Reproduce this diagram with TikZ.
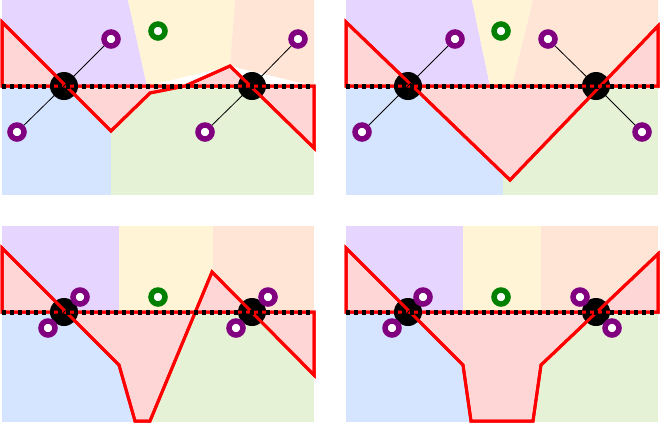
\documentclass[tikz,border=0pt]{standalone}
\begin{document}
\begin{tikzpicture}[x=1pt,y=-1pt,
  redline/.style={draw=red,line width=3pt,line join=miter,fill=pinkf},
  dotline/.style={draw=black,line width=5pt,dash pattern=on 4pt off 4pt},
  disc/.style={fill=black},
  ring/.style={draw=ringp,line width=5.5pt,fill=white},
  gring/.style={draw=ringg,line width=5.5pt,fill=white},
  link/.style={draw=black,line width=0.8pt}]
\definecolor{cP}{HTML}{E5D5FF}\definecolor{cY}{HTML}{FFF4D5}\definecolor{cO}{HTML}{FFE5D5}
\definecolor{cB}{HTML}{D5E5FF}\definecolor{cG}{HTML}{E5F2D5}\definecolor{pinkf}{HTML}{FFD6D6}
\definecolor{ringp}{HTML}{800080}\definecolor{ringg}{HTML}{008000}
\useasboundingbox (0,0) rectangle (660,424);
% ---------- panel 1
\fill[cP] (2,0)--(128,0)--(147,86)--(2,86)--cycle;
\fill[cY] (128,0)--(235,0)--(230,66)--(147,86)--cycle;
\fill[cO] (235,0)--(314,0)--(314,86)--(230,66)--cycle;
\fill[cB] (2,86) rectangle (111,195);
\fill[cG] (111,86) rectangle (314,195);
\path[redline] (2,86)--(2,22)--(111,131)--(150,93)--(185,86)--(230,66)--(314,148)--(314,86)--cycle;
\coordinate (a1) at (64,86); \coordinate (a2) at (252,86);
\coordinate (r1) at (111,39); \coordinate (r2) at (17,132);
\coordinate (r3) at (298,39); \coordinate (r4) at (205,132);
\fill[disc] (a1) circle (14); \fill[disc] (a2) circle (14);
\path[redline,fill=none] (2,22)--(111,131)--(150,93)--(185,86)--(230,66)--(314,148)--(314,86)--(2,86)--cycle;
\draw[link] (r1)--(a1)--(r2); \draw[link] (r3)--(a2)--(r4);
\draw[dotline] (2,86)--(314,86);
\path[ring] (r1) circle (7); \path[ring] (r2) circle (7);
\path[ring] (r3) circle (7); \path[ring] (r4) circle (7);
\path[gring] (158,31) circle (7);
% ---------- panel 2
\fill[cP] (346,0)--(472,0)--(490,86)--(346,86)--cycle;
\fill[cY] (472,0)--(533,0)--(512,86)--(490,86)--cycle;
\fill[cO] (533,0)--(658,0)--(658,86)--(512,86)--cycle;
\fill[cB] (346,86) rectangle (503,195);
\fill[cG] (503,86) rectangle (658,195);
\path[redline] (346,86)--(346,22)--(510,180)--(658,26)--(658,86)--cycle;
\coordinate (b1) at (408,86); \coordinate (b2) at (596,86);
\coordinate (s1) at (455,39); \coordinate (s2) at (362,132);
\coordinate (s3) at (548,39); \coordinate (s4) at (642,132);
\fill[disc] (b1) circle (14); \fill[disc] (b2) circle (14);
\path[redline,fill=none] (346,86)--(346,22)--(510,180)--(658,26)--(658,86)--cycle;
\draw[link] (s1)--(b1)--(s2); \draw[link] (s3)--(b2)--(s4);
\draw[dotline] (346,86)--(658,86);
\path[ring] (s1) circle (7); \path[ring] (s2) circle (7);
\path[ring] (s3) circle (7); \path[ring] (s4) circle (7);
\path[gring] (501,31) circle (7);
% ---------- panel 3
\fill[cP] (2,226) rectangle (119,312);
\fill[cY] (119,226) rectangle (213,312);
\fill[cO] (213,226) rectangle (314,312);
\fill[cB] (2,312) rectangle (135,422);
\fill[cG] (135,312) rectangle (314,422);
\path[redline] (2,312)--(2,248)--(119,365)--(135,421)--(150,421)--(212,272)--(314,375)--(314,312)--cycle;
\coordinate (c1) at (64,312); \coordinate (c2) at (252,312);
\coordinate (t1) at (80,297); \coordinate (t2) at (48,328);
\coordinate (t3) at (268,297); \coordinate (t4) at (236,328);
\fill[disc] (c1) circle (14); \fill[disc] (c2) circle (14);
\path[redline,fill=none] (2,312)--(2,248)--(119,365)--(135,421)--(150,421)--(212,272)--(314,375)--(314,312)--cycle;
\draw[link] (t1)--(c1)--(t2); \draw[link] (t3)--(c2)--(t4);
\draw[dotline] (2,312)--(314,312);
\path[ring] (t1) circle (7); \path[ring] (t2) circle (7);
\path[ring] (t3) circle (7); \path[ring] (t4) circle (7);
\path[gring] (158,297) circle (7);
% ---------- panel 4
\fill[cP] (346,226) rectangle (463,312);
\fill[cY] (463,226) rectangle (541,312);
\fill[cO] (541,226) rectangle (658,312);
\fill[cB] (346,312) rectangle (502,422);
\fill[cG] (502,312) rectangle (658,422);
\path[redline] (346,312)--(346,248)--(463,365)--(471,421)--(533,421)--(541,365)--(658,254)--(658,312)--cycle;
\coordinate (d1) at (408,312); \coordinate (d2) at (596,312);
\coordinate (u1) at (423,297); \coordinate (u2) at (392,328);
\coordinate (u3) at (580,297); \coordinate (u4) at (612,328);
\fill[disc] (d1) circle (14); \fill[disc] (d2) circle (14);
\path[redline,fill=none] (346,312)--(346,248)--(463,365)--(471,421)--(533,421)--(541,365)--(658,254)--(658,312)--cycle;
\draw[link] (u1)--(d1)--(u2); \draw[link] (u3)--(d2)--(u4);
\draw[dotline] (346,312)--(658,312);
\path[ring] (u1) circle (7); \path[ring] (u2) circle (7);
\path[ring] (u3) circle (7); \path[ring] (u4) circle (7);
\path[gring] (501,297) circle (7);
\end{tikzpicture}
\end{document}
